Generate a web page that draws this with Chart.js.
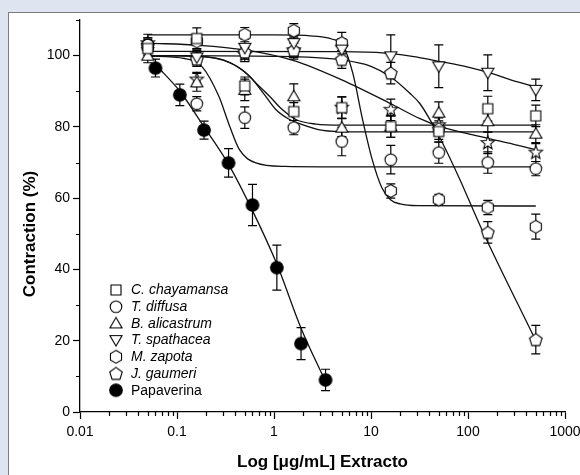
<!DOCTYPE html>
<html>
<head>
<meta charset="utf-8">
<script src="https://cdn.jsdelivr.net/npm/chart.js@4.4.0/dist/chart.umd.min.js"></script>
<style>
  html, body { margin: 0; padding: 0; }
  body { width: 580px; height: 475px; background: #dfe4f1; position: relative; overflow: hidden; }
  #panel { position: absolute; left: 8px; top: 12px; width: 600px; height: 500px; background: #fff; border: 1px solid #7d7d7d; }
  #wrap { position: absolute; left: 0; top: 0; width: 600px; height: 475px; }
</style>
</head>
<body>
<div id="panel"></div>
<div id="wrap"><canvas id="myChart" width="600" height="475"></canvas></div>
<script>
// concentrations (ug/mL)
var concExt = [0.05, 0.16, 0.5, 1.6, 5, 16, 50, 160, 500];
var concPap = [0.06, 0.107, 0.19, 0.34, 0.6, 1.07, 1.9, 3.4];

// measured contraction (%) and error
var chayamansa    = [102, 104.8, 91.5, 84.3, 85.4, 80.1, 78.7, 85.1, 83.1];
var chayamansaErr = [2, 3, 2.5, 2.5, 3, 3, 3, 3.5, 3];
var diffusa       = [103, 86.5, 82.6, 79.8, 75.9, 70.8, 72.8, 70, 68.3];
var diffusaErr    = [2, 2, 3, 2, 4, 4, 3, 3, 2];
var alicastrum    = [100, 92.5, 90.4, 88.6, 79.8, 80.1, 84, 81.6, 78.1];
var alicastrumErr = [2, 2.5, 3, 3.5, 2.5, 3, 3, 3, 2.5];
var spathacea     = [101, 99.5, 102.2, 103.5, 101.7, 99.8, 97, 95.2, 90.4];
var spathaceaErr  = [1.5, 2, 2.5, 2, 3, 6, 6, 5, 3];
var zapota        = [102.5, 104, 105.9, 107, 103.5, 62, 59.6, 57.4, 52];
var zapotaErr     = [2, 2, 2, 2, 3, 2, 1.5, 2, 3.5];
var gaumeri       = [103, 99, 101, 101.5, 98.9, 95.1, 79.5, 50.4, 20.3];
var gaumeriErr    = [2, 2, 2, 2.5, 2.5, 3, 3, 3, 4];
var starSeries    = [103.5, 93.3, 100.3, 101.5, 85.4, 84.8, 80.5, 75.5, 72.8];
var starErr       = [2.5, 2, 2, 2, 3, 3, 3, 3, 2.5];
var papaverina    = [96.5, 89, 79.1, 69.9, 58.1, 40.5, 19.2, 9.0];
var papaverinaErr = [2.5, 3, 2.5, 4, 5.8, 6.3, 4.5, 3];

// fitted curves
var fitPapX  = [0.06, 0.107, 0.19, 0.34, 0.6, 1.07, 1.9, 3.4];
var fitPapY  = [97.5, 90, 80, 69.5, 56.5, 41.5, 23.5, 8.5];
var fitChayX = [0.05, 0.17, 0.3, 0.47, 0.7, 0.9, 1.2, 1.7, 2.7, 5, 500];
var fitChayY = [100, 99.8, 98.8, 96, 91.5, 88.6, 85, 82, 80.8, 80.5, 80.5];
var fitAliX  = [0.05, 0.17, 0.35, 0.56, 0.8, 1.05, 1.4, 1.8, 3.2, 6, 500];
var fitAliY  = [100, 99.8, 98, 94.2, 89, 84.8, 82.3, 81, 79, 78.6, 78.6];
var fitDifX  = [0.05, 0.12, 0.18, 0.27, 0.35, 0.44, 0.65, 1.3, 3, 500];
var fitDifY  = [99.9, 99.2, 97, 88.6, 80.1, 73.6, 69.9, 68.9, 68.8, 68.8];
var fitSpaX  = [0.05, 5, 14, 30, 46, 100, 166, 275, 500];
var fitSpaY  = [101.2, 101.1, 100.7, 99.6, 98.6, 96.8, 95.2, 93.2, 91.2];
var fitZapX  = [0.05, 1, 2.5, 4, 5.1, 6.5, 8.2, 10.3, 12.9, 16, 20, 30, 500];
var fitZapY  = [105.8, 105.8, 105.5, 104.6, 103, 95, 82, 70.8, 63, 59.5, 58.4, 57.9, 57.8];
var fitGauX  = [0.05, 1, 5, 10, 16, 25, 32, 50, 80, 140, 500];
var fitGauY  = [100, 99.8, 98.8, 97, 94, 89.5, 86.5, 77.5, 66, 51, 20];
var fitStarX = [0.05, 0.17, 0.5, 1.6, 5, 16, 32, 50, 160, 290, 500];
var fitStarY = [103.5, 102.9, 101.6, 98.6, 93.2, 86.5, 82.3, 80.2, 76.8, 75.2, 73.6];

// axis ticks
var xDecades = [0.01, 0.1, 1, 10, 100];
var xMajorLabels = ['0.01', '0.1', '1', '10', '100', '1000'];
var yLabels = [0, 20, 40, 60, 80, 100];

var FONT = "'Liberation Sans', Arial, sans-serif";

function poly(g, cx, cy, n, rad, startDeg) {
  for (var i = 0; i < n; i++) {
    var a = (startDeg + i * 360 / n) * Math.PI / 180;
    var px = cx + rad * Math.cos(a), py = cy + rad * Math.sin(a);
    if (i === 0) g.moveTo(px, py); else g.lineTo(px, py);
  }
  g.closePath();
}

function makeMarker(shape, filled) {
  var c = document.createElement('canvas');
  c.width = 18; c.height = 18;
  var g = c.getContext('2d');
  var cx = 9, cy = 9;
  g.lineWidth = 1.1;
  g.strokeStyle = '#000';
  g.fillStyle = filled ? '#000' : '#fff';
  g.beginPath();
  if (shape == 'square') g.rect(cx - 5, cy - 5, 10, 10);
  else if (shape == 'circle') g.arc(cx, cy, filled ? 6.3 : 5.8, 0, 2 * Math.PI);
  else if (shape == 'tri') poly(g, cx, cy + 1, 3, 7, -90);
  else if (shape == 'dtri') poly(g, cx, cy - 1, 3, 7, 90);
  else if (shape == 'hex') poly(g, cx, cy, 6, 6.4, -90);
  else if (shape == 'pent') poly(g, cx, cy + 0.5, 5, 6.6, -90);
  else if (shape == 'star') {
    for (var i = 0; i < 10; i++) {
      var r = i % 2 ? 3 : 7;
      var a = (-90 + i * 36) * Math.PI / 180;
      if (i === 0) g.moveTo(cx + r * Math.cos(a), cy + r * Math.sin(a));
      else g.lineTo(cx + r * Math.cos(a), cy + r * Math.sin(a));
    }
    g.closePath();
  }
  g.fill();
  g.stroke();
  return c;
}

function pts(xs, ys) {
  return xs.map(function(x, i) { return {x: x, y: ys[i]}; });
}

function markerSet(label, xs, ys, errs, shape, filled) {
  return {
    label: label,
    legendText: label,
    data: pts(xs, ys),
    errors: errs,
    showLine: false,
    pointStyle: makeMarker(shape, filled),
    pointRadius: 6,
    pointHoverRadius: 6
  };
}

function fitSet(xs, ys) {
  return {
    data: pts(xs, ys),
    showLine: true,
    pointRadius: 0,
    borderColor: '#111',
    borderWidth: 1.3,
    cubicInterpolationMode: 'monotone'
  };
}

var datasets = [
  markerSet('C. chayamansa', concExt, chayamansa, chayamansaErr, 'square'),
  markerSet('T. diffusa', concExt, diffusa, diffusaErr, 'circle'),
  markerSet('B. alicastrum', concExt, alicastrum, alicastrumErr, 'tri'),
  markerSet('T. spathacea', concExt, spathacea, spathaceaErr, 'dtri'),
  markerSet('M. zapota', concExt, zapota, zapotaErr, 'hex'),
  markerSet('J. gaumeri', concExt, gaumeri, gaumeriErr, 'pent'),
  markerSet('', concExt, starSeries, starErr, 'star'),
  markerSet('Papaverina', concPap, papaverina, papaverinaErr, 'circle', true),
  fitSet(fitPapX, fitPapY),
  fitSet(fitChayX, fitChayY),
  fitSet(fitAliX, fitAliY),
  fitSet(fitDifX, fitDifY),
  fitSet(fitSpaX, fitSpaY),
  fitSet(fitZapX, fitZapY),
  fitSet(fitGauX, fitGauY),
  fitSet(fitStarX, fitStarY)
];

function isMajorX(v) {
  var l = Math.log10(v);
  return Math.abs(l - Math.round(l)) < 1e-6;
}

var errorBars = {
  id: 'errorBars',
  beforeDatasetsDraw: function(chart) {
    var ctx = chart.ctx, xs = chart.scales.x, ys = chart.scales.y;
    ctx.save();
    ctx.strokeStyle = '#000';
    ctx.lineWidth = 1.2;
    chart.data.datasets.forEach(function(ds) {
      if (!ds.errors) return;
      ds.data.forEach(function(p, i) {
        var e = ds.errors[i];
        var px = xs.getPixelForValue(p.x);
        var yt = ys.getPixelForValue(p.y + e), yb = ys.getPixelForValue(p.y - e);
        ctx.beginPath();
        ctx.moveTo(px, yt); ctx.lineTo(px, yb);
        ctx.moveTo(px - 4.5, yt); ctx.lineTo(px + 4.5, yt);
        ctx.moveTo(px - 4.5, yb); ctx.lineTo(px + 4.5, yb);
        ctx.stroke();
      });
    });
    ctx.restore();
  }
};

var extras = {
  id: 'extras',
  afterDraw: function(chart) {
    var ctx = chart.ctx, xs = chart.scales.x, ys = chart.scales.y, area = chart.chartArea;
    ctx.save();
    // minor ticks
    ctx.strokeStyle = '#000';
    ctx.lineWidth = 1.2;
    ctx.beginPath();
    xs.ticks.forEach(function(t) {
      if (isMajorX(t.value)) return;
      var px = Math.round(xs.getPixelForValue(t.value)) + 0.5;
      ctx.moveTo(px, area.bottom); ctx.lineTo(px, area.bottom + 4);
    });
    ys.ticks.forEach(function(t) {
      if (yLabels.indexOf(t.value) >= 0) return;
      var py = Math.round(ys.getPixelForValue(t.value)) + 0.5;
      ctx.moveTo(area.left, py); ctx.lineTo(area.left - 4, py);
    });
    ctx.stroke();

    // y axis title
    ctx.fillStyle = '#000';
    ctx.font = 'bold 17px ' + FONT;
    ctx.textAlign = 'center';
    ctx.textBaseline = 'middle';
    ctx.translate(30, 234);
    ctx.rotate(-Math.PI / 2);
    ctx.fillText('Contraction (%)', 0, 0);
    ctx.setTransform(1, 0, 0, 1, 0, 0);

    // legend
    var row = 0;
    ctx.textAlign = 'left';
    chart.data.datasets.forEach(function(ds) {
      if (!ds.legendText) return;
      var y = 290 + row * 16.7;
      ctx.drawImage(ds.pointStyle, 116 - 9, y - 9);
      ctx.font = (ds.legendText == 'Papaverina' ? '' : 'italic ') + '14px ' + FONT;
      ctx.fillText(ds.legendText, 131, y + 0.5);
      row++;
    });
    ctx.restore();
  }
};

var ctx = document.getElementById('myChart');
var chart = new Chart(ctx, {
  type: 'scatter',
  data: { datasets: datasets },
  options: {
    responsive: false,
    animation: false,
    devicePixelRatio: 1,
    layout: { padding: { left: 0, top: 20, right: 35, bottom: 0 } },
    plugins: { legend: { display: false }, tooltip: { enabled: false } },
    scales: {
      x: {
        type: 'logarithmic',
        min: 0.01,
        max: 1000,
        afterFit: function(scale) { scale.height = 63; },
        afterBuildTicks: function(scale) {
          var list = [];
          xDecades.forEach(function(d) {
            for (var m = 1; m < 10; m++) list.push({value: m * d});
          });
          list.push({value: 1000});
          scale.ticks = list;
        },
        border: { display: true, color: '#000', width: 1.3 },
        grid: {
          drawOnChartArea: false,
          drawTicks: true,
          tickLength: 7,
          tickWidth: 1.2,
          tickColor: function(c) { return c.tick && isMajorX(c.tick.value) ? '#000' : 'rgba(0,0,0,0)'; }
        },
        ticks: {
          autoSkip: false,
          maxRotation: 0,
          padding: 5,
          color: '#000',
          font: { family: FONT, size: 14 },
          callback: function(v) {
            if (!isMajorX(v)) return '';
            return xMajorLabels[Math.round(Math.log10(v)) + 2];
          }
        },
        title: {
          display: true,
          text: 'Log [\u03bcg/mL] Extracto',
          color: '#000',
          font: { family: FONT, size: 17, weight: 'bold' },
          padding: { top: 0, bottom: 2 }
        }
      },
      y: {
        min: 0,
        max: 110,
        afterFit: function(scale) { scale.width = 80; },
        border: { display: true, color: '#000', width: 1.3 },
        grid: {
          drawOnChartArea: false,
          drawTicks: true,
          tickLength: 7,
          tickWidth: 1.2,
          tickColor: function(c) { return c.tick && yLabels.indexOf(c.tick.value) >= 0 ? '#000' : 'rgba(0,0,0,0)'; }
        },
        ticks: {
          stepSize: 10,
          padding: 3,
          color: '#000',
          font: { family: FONT, size: 14 },
          callback: function(v) { return yLabels.indexOf(v) >= 0 ? String(v) : ''; }
        }
      }
    }
  },
  plugins: [errorBars, extras]
});
</script>
</body>
</html>
